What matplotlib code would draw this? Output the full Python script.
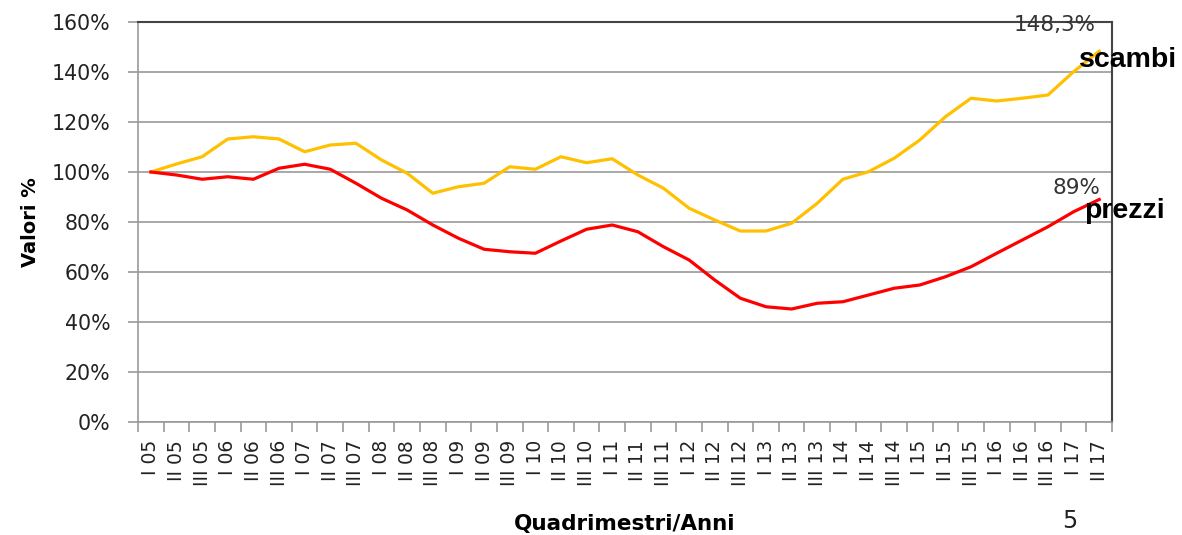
import numpy as np
import matplotlib
matplotlib.use("Agg")
import matplotlib.pyplot as plt
from matplotlib.ticker import FuncFormatter, MultipleLocator

# quadrimestri 2005 - II 2017
years = ["05", "06", "07", "08", "09", "10", "11", "12", "13", "14", "15", "16", "17"]
quads = ["I", "II", "III"]
labels = [f"{q} {y}" for y in years for q in quads][:38]

scambi = [100, 103.2, 106.1, 113.2, 114.1, 113.2, 108.1, 110.8, 111.5, 104.8,
          99.5, 91.5, 94.1, 95.5, 102.1, 101.1, 106.1, 103.7, 105.3, 98.8,
          93.5, 85.5, 80.8, 76.4, 76.4, 79.5, 87.5, 97.1, 100.1, 105.5,
          112.8, 122.1, 129.5, 128.4, 129.5, 130.8, 140.1, 148.3]
prezzi = [100, 98.8, 97.1, 98.1, 97.1, 101.5, 103.1, 101.1, 95.5, 89.5,
          84.8, 78.8, 73.5, 69.1, 68.1, 67.5, 72.4, 77.1, 78.8, 76.1,
          70.1, 64.8, 56.8, 49.5, 46.1, 45.2, 47.5, 48.1, 50.8, 53.5,
          54.8, 58.1, 62.1, 67.5, 72.8, 78.1, 84.1, 89.0]

x = np.arange(len(labels))

fig = plt.figure(figsize=(11.82, 5.35), dpi=100)
ax = fig.add_axes([0.1168, 0.2112, 0.824, 0.7477])

ax.plot(x, scambi, color="#FFC000", lw=2.3, solid_joinstyle="round")
ax.plot(x, prezzi, color="#FF0000", lw=2.3, solid_joinstyle="round")

ax.set_xlim(-0.5, len(labels) - 0.5)
ax.set_ylim(0, 160)
ax.yaxis.set_major_locator(MultipleLocator(20))
ax.yaxis.set_major_formatter(FuncFormatter(lambda v, p: f"{v:.0f}%"))
ax.grid(axis="y", color="#999999", lw=1.2)
ax.set_axisbelow(True)

ax.set_xticks(x)
ax.set_xticklabels(labels, rotation=90, fontsize=13.5, color="#222222")
ax.set_xticks(np.arange(-0.5, len(labels)), minor=True)
ax.tick_params(axis="x", which="major", length=0, pad=13)
ax.tick_params(axis="x", which="minor", length=7, color="#999999", width=1.2)
ax.tick_params(axis="y", length=7, color="#999999", width=1.2, labelsize=14.8,
               labelcolor="#222222", pad=13)

for side in ["left", "bottom"]:
    ax.spines[side].set_color("#999999")
    ax.spines[side].set_linewidth(1.2)
for side in ["top", "right"]:
    ax.spines[side].set_color("#444444")
    ax.spines[side].set_linewidth(1.5)

ax.set_ylabel("Valori %", fontsize=14, fontweight="bold", labelpad=8)
ax.set_xlabel("Quadrimestri/Anni", fontsize=15.5, fontweight="bold", labelpad=20)

last = len(labels) - 1
ax.annotate("148,3%", (last, scambi[-1]), xytext=(-31.7, 18.7), textcoords="offset points",
            ha="center", va="center", fontsize=15.5, color="#333333", annotation_clip=False)
ax.annotate("scambi", (last, scambi[-1]), xytext=(-14.4, -6.5), textcoords="offset points",
            ha="left", va="center", fontsize=20.5, fontweight="bold", family="Liberation Sans",
            annotation_clip=False)
ax.annotate("89%", (last, prezzi[-1]), xytext=(-16.6, 8.3), textcoords="offset points",
            ha="center", va="center", fontsize=15.5, color="#333333", annotation_clip=False)
ax.annotate("prezzi", (last, prezzi[-1]), xytext=(-10.8, -8.3), textcoords="offset points",
            ha="left", va="center", fontsize=20.5, fontweight="bold", family="Liberation Sans",
            annotation_clip=False)

fig.text(0.905, 0.004, "5", fontsize=17, ha="center", va="bottom", color="#222222")

fig.savefig("out.png", dpi=100)
